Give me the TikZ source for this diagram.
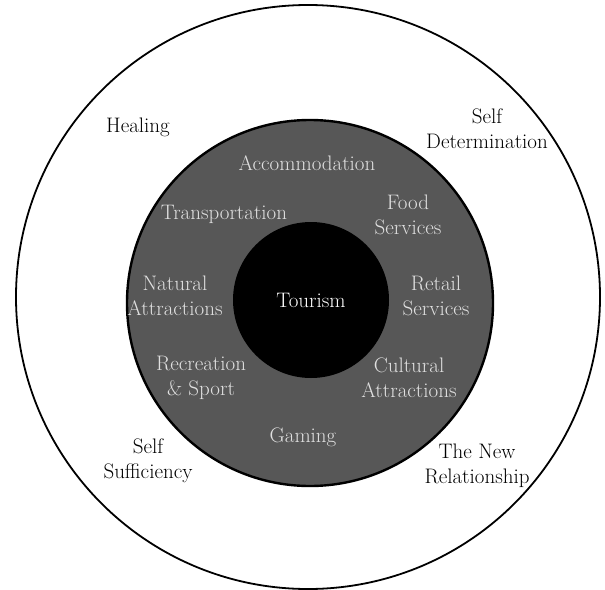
\documentclass[tikz,border=0pt]{standalone}
\begin{document}
\begin{tikzpicture}[x=1pt,y=-1pt,
  lbl/.style={font=\fontsize{21}{25}\selectfont, align=center, inner sep=0pt},
  ringlbl/.style={lbl, text=black!12},
]
\useasboundingbox (0,0) rectangle (605,589);
% outer circle
\node[circle, draw=black, line width=1.8pt, minimum size=584pt, inner sep=0pt] (outer) at (308,297) {};
% gray ring
\node[circle, draw=black, line width=2.4pt, fill=black!66, minimum size=366pt, inner sep=0pt] (ring) at (310,303) {};
% core
\node[circle, fill=black, minimum size=156pt, inner sep=0pt] (core) at (311,300) {};
\node[lbl, text=white] (tourism) at (311,300) {Tourism};
% ring labels
\node[ringlbl] (acc) at (307,163) {Accommodation};
\node[ringlbl] (trans) at (224,214) {Transportation};
\node[ringlbl] (food) at (408,215) {Food\\Services};
\node[ringlbl] (nat) at (175,296) {Natural\\Attractions};
\node[ringlbl] (retail) at (436,296) {Retail\\Services};
\node[ringlbl] (rec) at (201,378) {Recreation\\\& Sport};
\node[ringlbl] (cult) at (409,378) {Cultural\\Attractions};
\node[ringlbl] (gaming) at (303,437) {Gaming};
% outer labels
\node[lbl] (healing) at (138,127) {Healing};
\node[lbl] (selfdet) at (487,129) {Self\\Determination};
\node[lbl] (selfsuf) at (148,461) {Self\\Sufficiency};
\node[lbl] (newrel) at (477,466) {The New\\Relationship};
\end{tikzpicture}
\end{document}
